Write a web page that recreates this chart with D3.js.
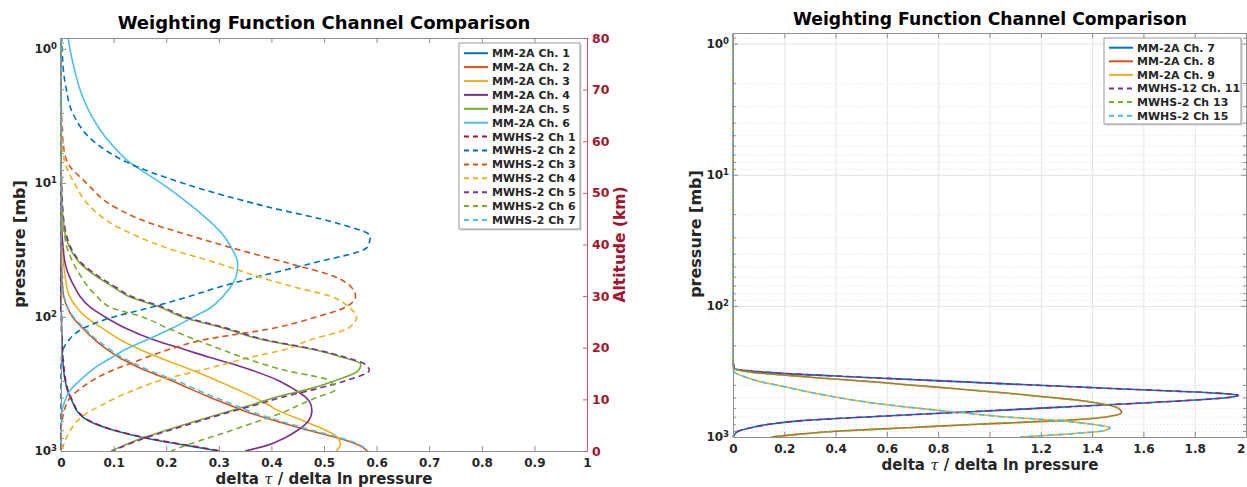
<!DOCTYPE html>
<html><head><meta charset="utf-8">
<script src="https://cdn.jsdelivr.net/npm/d3@7"></script>
<style>
body{margin:0;background:#fff}
svg{display:block}
text{font-family:"DejaVu Sans",sans-serif;font-weight:bold}
</style>
</head><body>
<svg id="c" width="1247" height="487"></svg>
<script>
// ---------------- DATA ----------------
const pressureLeft = [0.8,1,1.5,2,3,5,7,10,15,20,25,30,40,50,60,70,85,100,120,150,175,200,225,250,300,350,400,450,500,600,700,800,900,1000];
const mm2aCh1 = [0,0,0,0,0,0,0,0,0,0,0,0,0,0,0,0,0,0.001,0.001,0.002,0.002,0.003,0.004,0.005,0.008,0.012,0.018,0.024,0.03,0.054,0.1,0.16,0.232,0.3];
const mm2aCh2 = [0,0,0,0,0,0,0,0,0,0,0,0,0.001,0.002,0.003,0.005,0.012,0.022,0.04,0.066,0.088,0.11,0.135,0.16,0.212,0.25,0.285,0.318,0.347,0.41,0.47,0.527,0.565,0.583];
const mm2aCh3 = [0,0,0,0,0,0,0,0,0,0.001,0.002,0.003,0.005,0.008,0.011,0.016,0.03,0.047,0.077,0.115,0.15,0.185,0.22,0.25,0.298,0.337,0.368,0.393,0.413,0.463,0.503,0.527,0.531,0.523];
const mm2aCh4 = [0,0,0,0,0,0,0,0,0,0.001,0.002,0.004,0.008,0.016,0.026,0.036,0.056,0.084,0.12,0.18,0.235,0.282,0.328,0.363,0.415,0.445,0.466,0.475,0.477,0.47,0.45,0.425,0.395,0.35];
const mm2aCh5 = [0,0,0,0,0,0,0,0.001,0.002,0.005,0.009,0.016,0.037,0.068,0.1,0.128,0.19,0.23,0.305,0.39,0.48,0.535,0.57,0.566,0.52,0.465,0.405,0.365,0.323,0.255,0.2,0.155,0.122,0.095];
const mm2aCh6 = [0.013,0.017,0.027,0.036,0.055,0.093,0.13,0.19,0.25,0.287,0.31,0.323,0.336,0.333,0.322,0.308,0.285,0.252,0.214,0.16,0.122,0.097,0.075,0.058,0.035,0.018,0.01,0.005,0.002,0.001,0,0,0,0];
const mwhs2Ch1 = [0,0,0,0,0,0,0,0,0,0,0,0,0,0,0,0,0,0.001,0.001,0.002,0.003,0.004,0.005,0.006,0.009,0.013,0.019,0.025,0.031,0.056,0.102,0.163,0.236,0.305];
const mwhs2Ch2 = [0.001,0.002,0.005,0.01,0.022,0.065,0.125,0.23,0.39,0.525,0.588,0.583,0.475,0.375,0.3,0.245,0.17,0.1,0.045,0.014,0.004,0.001,0,0,0,0,0,0,0,0,0,0,0,0];
const mwhs2Ch3 = [0,0,0,0,0.001,0.004,0.012,0.048,0.1,0.17,0.25,0.318,0.435,0.52,0.552,0.56,0.54,0.485,0.41,0.265,0.205,0.163,0.128,0.098,0.058,0.034,0.017,0.01,0.006,0.002,0,0,0,0];
const mwhs2Ch4 = [0,0,0,0,0,0.002,0.007,0.025,0.055,0.095,0.145,0.195,0.3,0.375,0.445,0.512,0.548,0.562,0.548,0.47,0.425,0.36,0.31,0.265,0.185,0.14,0.105,0.08,0.057,0.03,0.018,0.01,0.005,0.003];
const mwhs2Ch5 = [0,0,0,0,0,0,0,0.001,0.003,0.006,0.011,0.018,0.04,0.072,0.104,0.133,0.195,0.236,0.31,0.395,0.484,0.54,0.578,0.586,0.54,0.478,0.417,0.373,0.33,0.262,0.207,0.16,0.125,0.098];
const mwhs2Ch6 = [0,0,0,0,0,0,0,0,0.001,0.004,0.007,0.011,0.024,0.038,0.052,0.068,0.095,0.155,0.2,0.26,0.305,0.345,0.385,0.425,0.512,0.52,0.485,0.455,0.43,0.375,0.325,0.28,0.24,0.21];
const mwhs2Ch7 = [0,0,0,0,0,0,0,0,0,0,0,0,0.001,0.002,0.003,0.006,0.013,0.024,0.043,0.07,0.093,0.116,0.142,0.167,0.22,0.259,0.294,0.327,0.356,0.418,0.477,0.532,0.568,0.584];

const pressureRight = [0.8,1,10,100,200,250,300,320,350,380,400,430,460,480,500,520,550,600,650,700,750,800,850,900,950,1000];
const mm2aCh7 = [0,0,0,0,0,0,0.005,0.12,0.5,0.9,1.15,1.52,1.86,1.97,1.93,1.82,1.6,1.22,0.87,0.54,0.27,0.14,0.07,0.022,0.007,0];
const mm2aCh8 = [0,0,0,0,0,0,0.003,0.07,0.3,0.55,0.68,0.88,1.05,1.15,1.24,1.33,1.42,1.5,1.515,1.46,1.27,0.95,0.68,0.42,0.26,0.15];
const mm2aCh9 = [0,0,0,0,0,0,0.001,0.006,0.05,0.11,0.165,0.24,0.31,0.36,0.41,0.46,0.545,0.71,0.88,1.05,1.27,1.4,1.47,1.44,1.3,1.12];
const mwhs12Ch11 = [0,0,0,0,0,0,0.005,0.12,0.5,0.9,1.15,1.52,1.86,1.97,1.93,1.82,1.6,1.22,0.87,0.54,0.27,0.14,0.07,0.022,0.007,0];
const mwhs2Ch13 = [0,0,0,0,0,0,0.003,0.07,0.3,0.55,0.68,0.88,1.05,1.15,1.24,1.33,1.42,1.5,1.515,1.46,1.27,0.95,0.68,0.42,0.26,0.15];
const mwhs2Ch15 = [0,0,0,0,0,0,0.001,0.006,0.05,0.11,0.165,0.24,0.31,0.36,0.41,0.46,0.545,0.71,0.88,1.05,1.27,1.4,1.47,1.44,1.3,1.12];

const xTicksLeft = [0,0.1,0.2,0.3,0.4,0.5,0.6,0.7,0.8,0.9,1];
const xTickLabelsLeft = ["0","0.1","0.2","0.3","0.4","0.5","0.6","0.7","0.8","0.9","1"];
const xTicksRight = [0,0.2,0.4,0.6,0.8,1,1.2,1.4,1.6,1.8,2];
const xTickLabelsRight = ["0","0.2","0.4","0.6","0.8","1","1.2","1.4","1.6","1.8","2"];
const yMajor = [1,10,100,1000];
const yExponents = ["0","1","2","3"];
const yMinor = [0.9,2,3,4,5,6,7,8,9,20,30,40,50,60,70,80,90,200,300,400,500,600,700,800,900];
const altTicks = [0,10,20,30,40,50,60,70,80];

// ---------------- STYLES ----------------
const C = {blue:"#0072BD", orange:"#D95319", yellow:"#EDB120", purple:"#7E2F8E", green:"#77AC30", cyan:"#4DBEEE", red:"#A2142F"};
const leftSeries = [
  {name:"MM-2A Ch. 1", v:mm2aCh1, c:C.blue, d:false},
  {name:"MM-2A Ch. 2", v:mm2aCh2, c:C.orange, d:false},
  {name:"MM-2A Ch. 3", v:mm2aCh3, c:C.yellow, d:false},
  {name:"MM-2A Ch. 4", v:mm2aCh4, c:C.purple, d:false},
  {name:"MM-2A Ch. 5", v:mm2aCh5, c:C.green, d:false},
  {name:"MM-2A Ch. 6", v:mm2aCh6, c:C.cyan, d:false},
  {name:"MWHS-2 Ch 1", v:mwhs2Ch1, c:C.red, d:true},
  {name:"MWHS-2 Ch 2", v:mwhs2Ch2, c:C.blue, d:true},
  {name:"MWHS-2 Ch 3", v:mwhs2Ch3, c:C.orange, d:true},
  {name:"MWHS-2 Ch 4", v:mwhs2Ch4, c:C.yellow, d:true},
  {name:"MWHS-2 Ch 5", v:mwhs2Ch5, c:C.purple, d:true},
  {name:"MWHS-2 Ch 6", v:mwhs2Ch6, c:C.green, d:true},
  {name:"MWHS-2 Ch 7", v:mwhs2Ch7, c:C.cyan, d:true}
];
const rightSeries = [
  {name:"MM-2A Ch. 7", v:mm2aCh7, c:C.blue, d:false},
  {name:"MM-2A Ch. 8", v:mm2aCh8, c:C.orange, d:false},
  {name:"MM-2A Ch. 9", v:mm2aCh9, c:C.yellow, d:false},
  {name:"MWHS-12 Ch. 11", v:mwhs12Ch11, c:C.purple, d:true},
  {name:"MWHS-2 Ch 13", v:mwhs2Ch13, c:C.green, d:true},
  {name:"MWHS-2 Ch 15", v:mwhs2Ch15, c:C.cyan, d:true}
];

const AX = "#8f8f8f", TXT = "#262626", DASH = "6,4", LW = 1.6;
const svg = d3.select("#c");
svg.append("rect").attr("width",1247).attr("height",487).attr("fill","#fff");

function panel(cfg){
  const {x, y, pressure, series, id} = cfg;
  const [x0,x1] = x.range(), [yT,yB] = y.range();
  const g = svg.append("g");

  if (cfg.grid){
    g.append("g").attr("transform",`translate(0,${yB})`)
      .call(d3.axisBottom(x).tickValues(cfg.xTicks).tickSize(-(yB-yT)).tickFormat(""))
      .call(s=>{s.select(".domain").remove(); s.selectAll("line").attr("stroke","#e4e4e4");});
    g.append("g").attr("transform",`translate(${x0},0)`)
      .call(d3.axisLeft(y).tickValues(yMinor.filter(v=>v>=y.domain()[0])).tickSize(-(x1-x0)).tickFormat(""))
      .call(s=>{s.select(".domain").remove(); s.selectAll("line").attr("stroke","#e6e6e6").attr("stroke-dasharray","1.5,2");});
    g.append("g").attr("transform",`translate(${x0},0)`)
      .call(d3.axisLeft(y).tickValues(yMajor).tickSize(-(x1-x0)).tickFormat(""))
      .call(s=>{s.select(".domain").remove(); s.selectAll("line").attr("stroke","#e2e2e2");});
  }

  // curves
  const clipId = "clip"+id;
  svg.append("clipPath").attr("id",clipId).append("rect")
    .attr("x",x0-2).attr("y",yT).attr("width",x1-x0+3).attr("height",yB-yT);
  const line = d3.line().x(d=>x(d[1])).y(d=>y(d[0])).curve(d3.curveMonotoneY);
  const cg = g.append("g").attr("clip-path",`url(#${clipId})`);
  series.forEach(s=>{
    cg.append("path").datum(pressure.map((p,i)=>[p,s.v[i]]))
      .attr("d",line).attr("fill","none").attr("stroke",s.c).attr("stroke-width",LW)
      .attr("stroke-dasharray", s.d?DASH:null).attr("stroke-linejoin","round");
  });

  const fontAttrs = s=>s.attr("font-family","DejaVu Sans").attr("font-weight","bold").attr("font-size",12);
  // bottom axis
  g.append("g").attr("transform",`translate(0,${yB})`)
    .call(d3.axisBottom(x).tickValues(cfg.xTicks).tickSize(-5).tickSizeOuter(0).tickPadding(7)
      .tickFormat((d,i)=>cfg.xLabels[i]))
    .call(fontAttrs)
    .call(s=>{s.select(".domain").attr("stroke",AX).attr("stroke-width",1.2); s.selectAll("line").attr("stroke",AX); s.selectAll("text").attr("fill",TXT);})
    .call(s=>{ if (cfg.lastEnd) s.selectAll(".tick text").filter((d,i,n)=>i===n.length-1).attr("text-anchor","end").attr("dx","-0.1em"); });
  // top axis
  g.append("g").attr("transform",`translate(0,${yT})`)
    .call(d3.axisTop(x).tickValues(cfg.xTicks).tickSize(-5).tickSizeOuter(0).tickFormat(""))
    .call(s=>{s.select(".domain").attr("stroke",AX); s.selectAll("line").attr("stroke",AX);});
  // left axis major
  const la = g.append("g").attr("transform",`translate(${x0},0)`)
    .call(d3.axisLeft(y).tickValues(yMajor).tickSize(-5).tickSizeOuter(0).tickPadding(4).tickFormat(""))
    .call(fontAttrs)
    .call(s=>{s.select(".domain").attr("stroke",AX); s.selectAll("line").attr("stroke",AX);});
  la.selectAll(".tick text").attr("fill",TXT).each(function(d,i){
    const t = d3.select(this);
    t.append("tspan").text("10");
    t.append("tspan").attr("dy","-0.5em").attr("font-size",8.5).text(yExponents[i]);
  });
  g.append("g").attr("transform",`translate(${x0},0)`)
    .call(d3.axisLeft(y).tickValues(yMinor.filter(v=>v>=y.domain()[0])).tickSize(-3).tickFormat(""))
    .call(s=>{s.select(".domain").remove(); s.selectAll("line").attr("stroke",AX);});

  if (cfg.altitude){
    const alt = d3.scaleLinear([0,80],[yB,yT]);
    g.append("g").attr("transform",`translate(${x1},0)`)
      .call(d3.axisRight(alt).tickValues(altTicks).tickSize(-4).tickSizeOuter(0).tickPadding(5))
      .call(s=>s.attr("font-family","DejaVu Sans").attr("font-weight","bold").attr("font-size",12.5))
      .call(s=>{s.select(".domain").attr("stroke","#c75a6e"); s.selectAll("line").attr("stroke","#c75a6e"); s.selectAll("text").attr("fill",C.red);});
    g.append("text").attr("transform",`translate(625,${(yT+yB)/2}) rotate(-90)`)
      .attr("text-anchor","middle").attr("font-size",15.5).attr("fill",C.red).text("Altitude (km)");
  } else {
    g.append("g").attr("transform",`translate(${x1},0)`)
      .call(d3.axisRight(y).tickValues(yMajor).tickSize(-5).tickSizeOuter(0).tickFormat(""))
      .call(s=>{s.select(".domain").attr("stroke",AX); s.selectAll("line").attr("stroke",AX);});
    g.append("g").attr("transform",`translate(${x1},0)`)
      .call(d3.axisRight(y).tickValues(yMinor.filter(v=>v>=y.domain()[0])).tickSize(-3).tickFormat(""))
      .call(s=>{s.select(".domain").remove(); s.selectAll("line").attr("stroke",AX);});
  }

  // titles & labels
  g.append("text").attr("x",cfg.titleX).attr("y",cfg.titleY).attr("text-anchor","middle")
    .attr("font-size",cfg.titleSize).attr("fill","#000").text("Weighting Function Channel Comparison");
  const xl = g.append("text").attr("x",cfg.titleX).attr("y",cfg.xLabelY).attr("text-anchor","middle")
    .attr("font-size",15).attr("fill",TXT);
  xl.append("tspan").text("delta ");
  xl.append("tspan").attr("font-family","DejaVu Serif").attr("font-style","italic").attr("font-weight","normal").text("τ");
  xl.append("tspan").text(" / delta ln pressure");
  g.append("text").attr("transform",`translate(${cfg.yLabelX},${cfg.yLabelY}) rotate(-90)`)
    .attr("text-anchor","middle").attr("font-size",16).attr("fill",TXT).text("pressure [mb]");

  // legend
  const L = cfg.legend;
  const lg = g.append("g");
  lg.append("rect").attr("x",L.x+1.5).attr("y",L.y+1.5).attr("width",L.w).attr("height",L.h).attr("fill","#d0d0d0");
  lg.append("rect").attr("x",L.x).attr("y",L.y).attr("width",L.w).attr("height",L.h)
    .attr("fill","#fff").attr("stroke","#9a9a9a").attr("stroke-width",1);
  series.forEach((s,i)=>{
    const yy = L.first + i*L.step;
    lg.append("line").attr("x1",L.x+5).attr("x2",L.x+29).attr("y1",yy).attr("y2",yy)
      .attr("stroke",s.c).attr("stroke-width",2).attr("stroke-dasharray",s.d?"5,4":null);
    lg.append("text").attr("x",L.x+33).attr("y",yy).attr("dy","0.36em")
      .attr("font-size",11).attr("fill",TXT).text(s.name);
  });
}

panel({
  id:"L", x:d3.scaleLinear([0,1],[61,587]), y:d3.scaleLog([0.83,1000],[38,451]),
  pressure:pressureLeft, series:leftSeries, xTicks:xTicksLeft, xLabels:xTickLabelsLeft,
  grid:false, altitude:true, titleX:324, titleY:29, titleSize:18, xLabelY:483.5,
  yLabelX:25, yLabelY:244, lastEnd:false,
  legend:{x:459, y:43, w:121, h:186, first:53.2, step:13.9}
});
panel({
  id:"R", x:d3.scaleLinear([0,2],[733,1246]), y:d3.scaleLog([0.83,1000],[33,437]),
  pressure:pressureRight, series:rightSeries, xTicks:xTicksRight, xLabels:xTickLabelsRight,
  grid:true, altitude:false, titleX:990, titleY:25, titleSize:17.2, xLabelY:470,
  yLabelX:701, yLabelY:234, lastEnd:true,
  legend:{x:1104, y:38, w:137, h:86, first:47.7, step:13.6}
});
</script>
</body></html>
